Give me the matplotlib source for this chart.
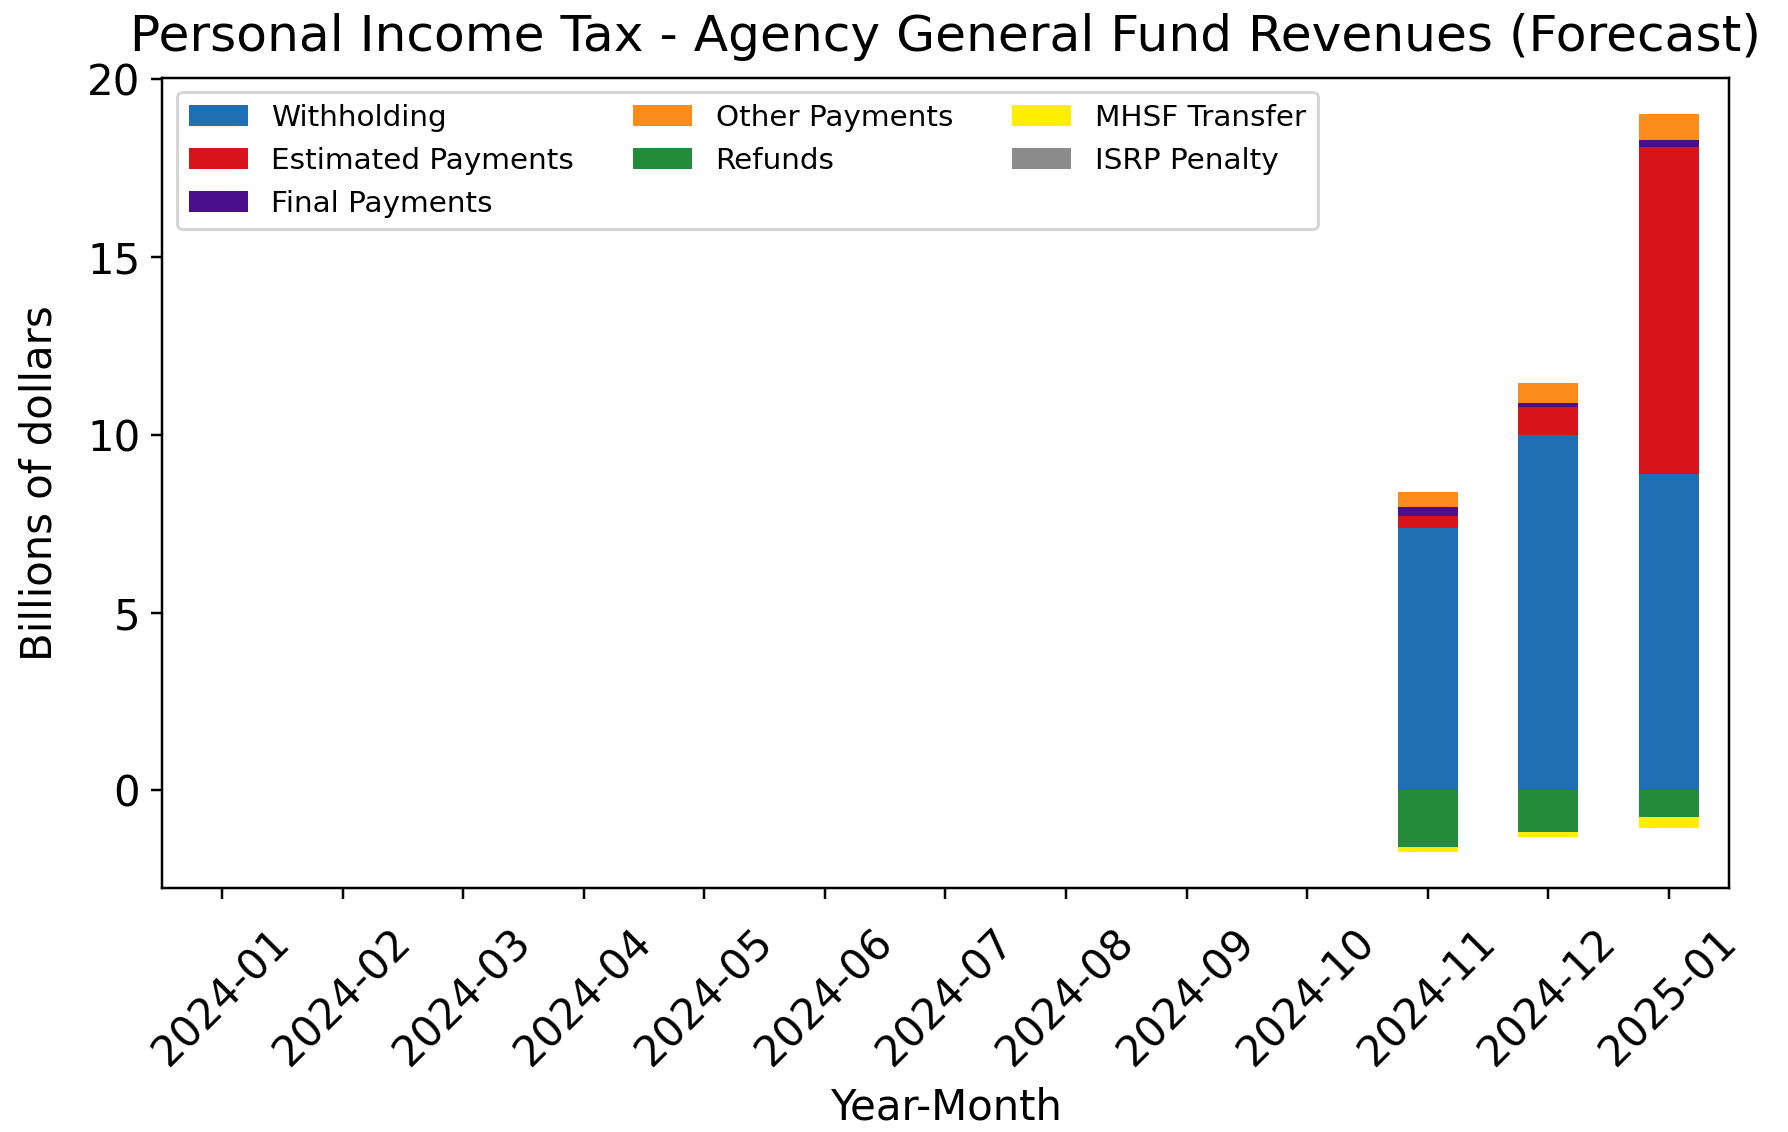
import matplotlib
matplotlib.use('Agg')
import matplotlib.pyplot as plt
import numpy as np

months = ["2024-01", "2024-02", "2024-03", "2024-04", "2024-05", "2024-06", "2024-07",
          "2024-08", "2024-09", "2024-10", "2024-11", "2024-12", "2025-01"]

# billions of dollars, only the last three months have forecast values
withholding = [0, 0, 0, 0, 0, 0, 0, 0, 0, 0, 7.38, 10.00, 8.91]
estimated = [0, 0, 0, 0, 0, 0, 0, 0, 0, 0, 0.34, 0.79, 9.18]
final_pay = [0, 0, 0, 0, 0, 0, 0, 0, 0, 0, 0.24, 0.11, 0.21]
other_pay = [0, 0, 0, 0, 0, 0, 0, 0, 0, 0, 0.42, 0.57, 0.73]
refunds = [0, 0, 0, 0, 0, 0, 0, 0, 0, 0, -1.59, -1.17, -0.75]
mhsf = [0, 0, 0, 0, 0, 0, 0, 0, 0, 0, -0.14, -0.14, -0.30]
isrp = [0, 0, 0, 0, 0, 0, 0, 0, 0, 0, 0, 0, 0]

series = [("Withholding", withholding, "#1f6fb4"),
          ("Estimated Payments", estimated, "#d7141c"),
          ("Final Payments", final_pay, "#4b0f8c"),
          ("Other Payments", other_pay, "#fb8c1c"),
          ("Refunds", refunds, "#238b3c"),
          ("MHSF Transfer", mhsf, "#ffee00"),
          ("ISRP Penalty", isrp, "#8c8c8c")]

fig = plt.figure(figsize=(8, 5.065), dpi=223.5)
ax = fig.add_axes([0.0906, 0.2155, 0.8764, 0.716])

x = np.arange(len(months))
pos_base = np.zeros(len(months))
neg_base = np.zeros(len(months))
for name, vals, col in series:
    v = np.array(vals, dtype=float)
    bottom = np.where(v >= 0, pos_base, neg_base)
    ax.bar(x, v, width=0.5, bottom=bottom, color=col, label=name)
    pos_base = pos_base + np.where(v > 0, v, 0)
    neg_base = neg_base + np.where(v < 0, v, 0)

ax.set_xlim(-0.5, len(months) - 0.5)
ax.set_ylim(-2.75, 20.05)
ax.set_yticks([0, 5, 10, 15, 20])
ax.set_xticks(x)
ax.set_xticklabels(months, rotation=45, ha='center')
ax.tick_params(labelsize=13.5)
ax.tick_params(axis='x', pad=7)
ax.set_xlabel("Year-Month", fontsize=13.5)
ax.set_ylabel("Billions of dollars", fontsize=13.5, labelpad=8.5)
ax.set_title("Personal Income Tax - Agency General Fund Revenues (Forecast)", fontsize=16.2, pad=8.5)
ax.legend(loc='upper left', ncol=3, fontsize=9.5)

fig.savefig("out.png")
